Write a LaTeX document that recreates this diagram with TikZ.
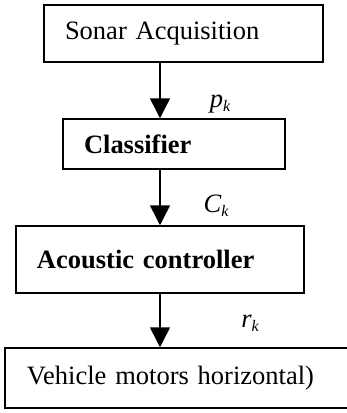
\documentclass[tikz,border=0pt]{standalone}
\usepackage{fontspec}
\setmainfont{Liberation Serif}
\usetikzlibrary{arrows.meta}
\newcommand{\sig}[2]{{\itshape #1}\raisebox{-0.35ex}{\fontsize{16}{16}\selectfont\itshape #2}}
\begin{document}
\begin{tikzpicture}[x=1pt,y=-1pt,
  every node/.style={font=\fontsize{26.5}{30}\selectfont},
  block/.style={draw,line width=1.5pt,rectangle,inner xsep=21pt,inner ysep=0pt,align=left,anchor=center},
  flow/.style={line width=1.5pt,-{Triangle[width=20pt,length=20pt]}},
  sigl/.style={inner sep=0pt}]
\useasboundingbox (0,0) rectangle (347,413);
\coordinate (spine) at (160,0);
\node[block,minimum width=279pt,minimum height=57pt,text width=237pt] (acq) at (183.5,33.5) {Sonar Acquisition};
\node[block,minimum width=222pt,minimum height=50pt,text width=180pt,font=\fontsize{26.5}{30}\selectfont\bfseries] (cls) at (174,144) {\raisebox{-3pt}{Classifier}};
\node[block,minimum width=288pt,minimum height=67pt,text width=246pt,font=\fontsize{26.5}{30}\selectfont\bfseries] (ctl) at (160,259.5) {\raisebox{-2pt}{Acoustic controller}};
\node[block,minimum width=356pt,minimum height=60pt,text width=312pt,inner xsep=22pt] (mot) at (183,378) {Vehicle motors horizontal)};
\draw[flow] (acq.south -| spine) -- (cls.north -| spine);
\draw[flow] (cls.south -| spine) -- (ctl.north -| spine);
\draw[flow] (ctl.south -| spine) -- (mot.north -| spine);
\node[sigl] (pk) at (220,104) {\sig{p}{k}};
\node[sigl] (ck) at (216,206) {\sig{C}{k}};
\node[sigl] (rk) at (250,323) {\sig{r}{k}};
\end{tikzpicture}
\end{document}
